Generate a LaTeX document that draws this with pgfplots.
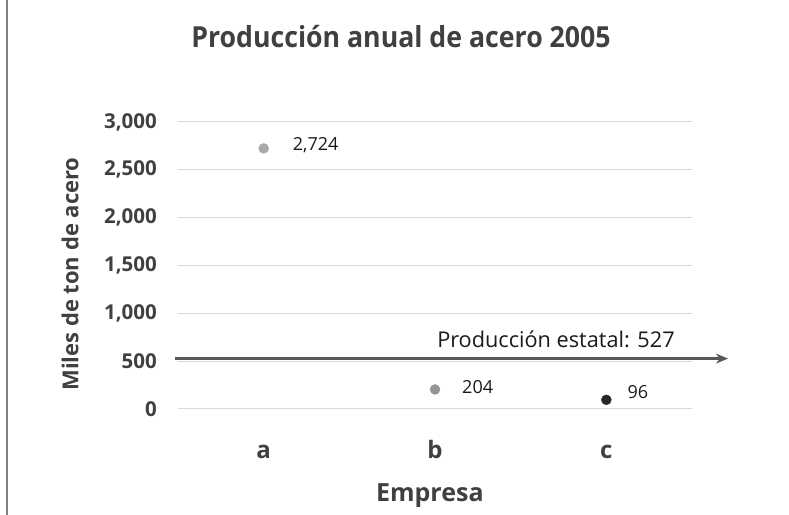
\documentclass[border=0pt]{standalone}
\usepackage{pgfplots}
\pgfplotsset{compat=1.18}
\usetikzlibrary{arrows.meta}
\usepackage{fontspec}
\setmainfont{Open Sans}
\newfontfamily\titlefont[FakeStretch=0.92]{Open Sans}
\definecolor{txt}{HTML}{404040}
\definecolor{gridc}{HTML}{D9D9D9}
\definecolor{ptA}{HTML}{A9A9A9}
\definecolor{ptB}{HTML}{959595}
\definecolor{ptC}{HTML}{262626}
\definecolor{arrc}{HTML}{595959}
\begin{document}
\begin{tikzpicture}[x=1bp,y=1bp]
\path[use as bounding box] (0,0) rectangle (789,515);
\draw[color={rgb,255:red,128;green,128;blue,128}, line width=2.2bp] (7,0) -- (7,515);
\node[anchor=base, inner sep=0, text=txt, font=\titlefont\bfseries\fontsize{29bp}{32bp}\selectfont] at (401,515-48) {Producción anual de acero 2005};
\begin{axis}[
  at={(178bp,106bp)}, anchor=south west,
  width=514bp, height=287bp, scale only axis,
  xmin=-0.5, xmax=2.5, ymin=0, ymax=3000,
  clip=false,
  axis line style={draw=none},
  major tick length=0pt,
  ymajorgrids, grid style={draw=gridc, line width=1bp},
  xtick={0,1,2}, xticklabels={a,b,c},
  ytick={0,500,1000,1500,2000,2500,3000},
  /pgf/number format/.cd, 1000 sep={,}, assume math mode=true, /pgfplots/.cd,
  xticklabel style={anchor=base, inner sep=0, yshift=-50bp, text=txt, font=\bfseries\fontsize{24bp}{27bp}\selectfont},
  yticklabel style={anchor=east, inner sep=0, xshift=-21bp, text=txt, font=\bfseries\fontsize{20.5bp}{23bp}\selectfont},
  xlabel={Empresa},
  xlabel style={at={(axis description cs:0.49,0)}, anchor=base, inner sep=0, yshift=-93bp, text=txt, font=\bfseries\fontsize{25bp}{28bp}\selectfont},
  ylabel={Miles de ton de acero},
  ylabel style={at={(axis description cs:-0.21,0.47)}, anchor=center, inner sep=0, text=txt, font=\bfseries\fontsize{22bp}{25bp}\selectfont},
  nodes near coords,
  every node near coord/.append style={anchor=west, inner sep=0, font=\fontsize{18bp}{21bp}\selectfont, text={rgb,255:red,26;green,26;blue,26}},
]
\addplot[only marks, mark=*, mark size=5bp, color=ptA, every node near coord/.append style={xshift=29bp, yshift=3bp}] coordinates {(0,2724)};
\addplot[only marks, mark=*, mark size=5bp, color=ptB, every node near coord/.append style={xshift=27bp, yshift=2bp}] coordinates {(1,204)};
\addplot[only marks, mark=*, mark size=5bp, color=ptC, every node near coord/.append style={xshift=21bp, yshift=8bp}] coordinates {(2,96)};
\addplot[draw=arrc, line width=2.6bp, -{Stealth[length=12bp, width=10bp]}, nodes near coords={}] coordinates {(-0.52,527) (2.71,527)};
\node[anchor=base west, inner sep=0, font=\fontsize{21.7bp}{24bp}\selectfont, text={rgb,255:red,26;green,26;blue,26}] at (axis cs:1.012,527) [yshift=11bp] {Producción estatal: 527};
\end{axis}
\end{tikzpicture}
\end{document}
